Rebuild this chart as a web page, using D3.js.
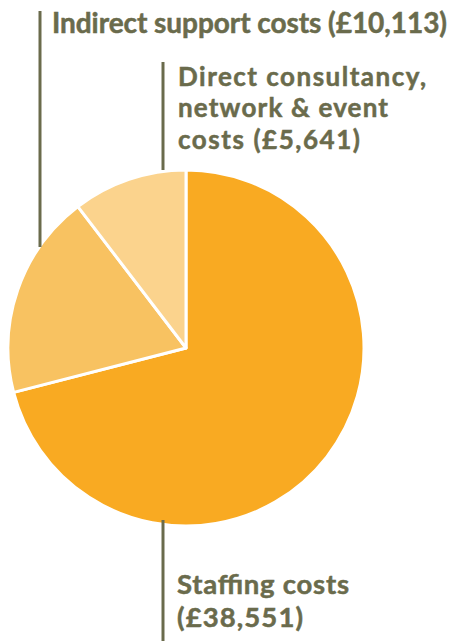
<!DOCTYPE html>
<html><head><meta charset="utf-8">
<script src="https://cdn.jsdelivr.net/npm/d3@7"></script>
<style>html,body{margin:0;padding:0;background:#fff;}svg{display:block;}</style>
</head><body>
<svg id="c" width="456" height="641"></svg>
<script>
const categories = ["Staffing costs", "Indirect support costs", "Direct consultancy, network & event costs"];
const values = [38551, 10113, 5641];
const colors = ["#F9AA22", "#F8C261", "#FBD38D"];
const labelLines = [
  ["Staffing costs", "(£38,551)"],
  ["Indirect support costs (£10,113)"],
  ["Direct consultancy,", "network & event", "costs (£5,641)"]
];

const svg = d3.select("#c");
const cx = 186, cy = 348, r = 178;
const textColor = "#6A6B4C";

const pie = d3.pie().sort(null).value(d => d)(values);
const arc = d3.arc().innerRadius(0).outerRadius(r);
const g = svg.append("g").attr("transform", `translate(${cx},${cy})`);
g.selectAll("path").data(pie).join("path")
  .attr("d", arc)
  .attr("fill", (d, i) => colors[i])
  .attr("stroke", "#fff").attr("stroke-width", 3).attr("stroke-linejoin", "round");

const leaders = [
  {x: 163, y1: 520, y2: 641},
  {x: 40, y1: 11, y2: 247},
  {x: 163, y1: 62, y2: 170}
];
svg.selectAll("line.leader").data(leaders).join("line")
  .attr("class", "leader")
  .attr("x1", d => d.x).attr("x2", d => d.x)
  .attr("y1", d => d.y1).attr("y2", d => d.y2)
  .attr("stroke", textColor).attr("stroke-width", 3);

const labelPos = [
  {x: 177, y: 594, dy: 33, w: [172, 126], fs: 27.5},
  {x: 52, y: 33, dy: 30, w: [395], fs: 28},
  {x: 178, y: 86, dy: 31.3, w: [248, 210, 182], fs: 26}
];
labelLines.forEach((lines, i) => {
  lines.forEach((ln, j) => {
    svg.append("text")
      .attr("x", labelPos[i].x).attr("y", labelPos[i].y + j * labelPos[i].dy)
      .attr("fill", textColor)
      .attr("stroke", textColor).attr("stroke-width", 0.5)
      .attr("font-family", "Lato, sans-serif")
      .attr("font-weight", 700)
      .attr("font-size", labelPos[i].fs)
      .attr("textLength", labelPos[i].w[j]).attr("lengthAdjust", "spacing")
      .text(ln);
  });
});
</script>
</body></html>
